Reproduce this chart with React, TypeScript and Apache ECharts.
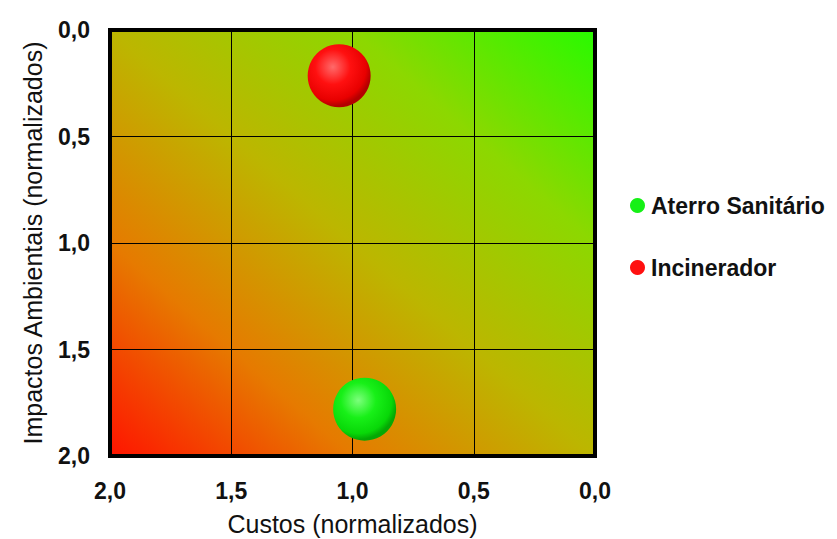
import React, { useEffect, useRef } from "react";
import * as echarts from "echarts";

const seriesNames = ["Aterro Sanitário", "Incinerador"];
const costs = [0.95, 1.055];
const impacts = [1.78, 0.215];
const legendColors = ["#16f016", "#ff1010"];

const fmt = (v: number) => v.toFixed(1).replace(".", ",");

const bubble = (light: string, mid: string, edge: string, dark: string) =>
  new echarts.graphic.RadialGradient(0.4, 0.36, 0.62, [
    { offset: 0, color: light },
    { offset: 0.45, color: mid },
    { offset: 0.85, color: edge },
    { offset: 1, color: dark },
  ]);

export default function App() {
  const ref = useRef<HTMLDivElement>(null);
  useEffect(() => {
    if (!ref.current) return;
    const chart = echarts.init(ref.current, null, { renderer: "svg" });
    const fills = [
      bubble("#7cff7c", "#18f018", "#08d808", "#04a804"),
      bubble("#ff6a6a", "#ff1010", "#e80000", "#b40000"),
    ];
    chart.setOption({
      animation: false,
      textStyle: { fontFamily: "Liberation Sans, Arial, sans-serif" },
      grid: {
        left: 102,
        top: 22,
        width: 485,
        height: 426,
        outerBoundsMode: "none",
        containLabel: false,
        show: true,
        borderColor: "#000",
        borderWidth: 4,
        backgroundColor: new echarts.graphic.LinearGradient(0, 1, 1, 0, [
          { offset: 0, color: "#ff1400" },
          { offset: 0.25, color: "#e67a00" },
          { offset: 0.5, color: "#bcb600" },
          { offset: 0.75, color: "#8cd800" },
          { offset: 1, color: "#28fa00" },
        ]),
      },
      legend: {
        orient: "vertical",
        left: 617,
        top: 181,
        itemGap: 39,
        itemWidth: 15,
        itemHeight: 15,
        icon: "circle",
        textStyle: { fontSize: 23, fontWeight: "bold", color: "#111", padding: [0, 0, 0, 1] },
        data: seriesNames.map((n, i) => ({ name: n, itemStyle: { color: legendColors[i] } })),
      },
      xAxis: {
        type: "value",
        inverse: true,
        min: 0,
        max: 2,
        interval: 0.5,
        name: "Custos (normalizados)",
        nameLocation: "middle",
        nameGap: 55,
        nameTextStyle: { fontSize: 25, color: "#111" },
        axisLine: { show: true, lineStyle: { color: "#000", width: 1 } },
        axisTick: { show: true, length: 5, lineStyle: { color: "#000" } },
        axisLabel: { formatter: fmt, fontSize: 23, fontWeight: "bold", color: "#111", margin: 23 },
        splitLine: { show: true, lineStyle: { color: "#000", width: 1 } },
      },
      yAxis: {
        type: "value",
        inverse: true,
        min: 0,
        max: 2,
        interval: 0.5,
        name: "Impactos Ambientais (normalizados)",
        nameLocation: "middle",
        nameGap: 65,
        nameTextStyle: { fontSize: 25, color: "#111" },
        axisLine: { show: true, lineStyle: { color: "#000", width: 1 } },
        axisTick: { show: true, length: 5, lineStyle: { color: "#000" } },
        axisLabel: { formatter: fmt, fontSize: 23, fontWeight: "bold", color: "#111", margin: 20 },
        splitLine: { show: true, lineStyle: { color: "#000", width: 1 } },
      },
      series: seriesNames.map((n, i) => ({
        name: n,
        type: "scatter",
        symbol: "circle",
        symbolSize: 63,
        data: [[costs[i], impacts[i]]],
        itemStyle: { color: fills[i], opacity: 1 },
        emphasis: { disabled: true },
      })),
    });
    return () => chart.dispose();
  }, []);
  return <div ref={ref} style={{ width: 829, height: 531 }} />;
}
